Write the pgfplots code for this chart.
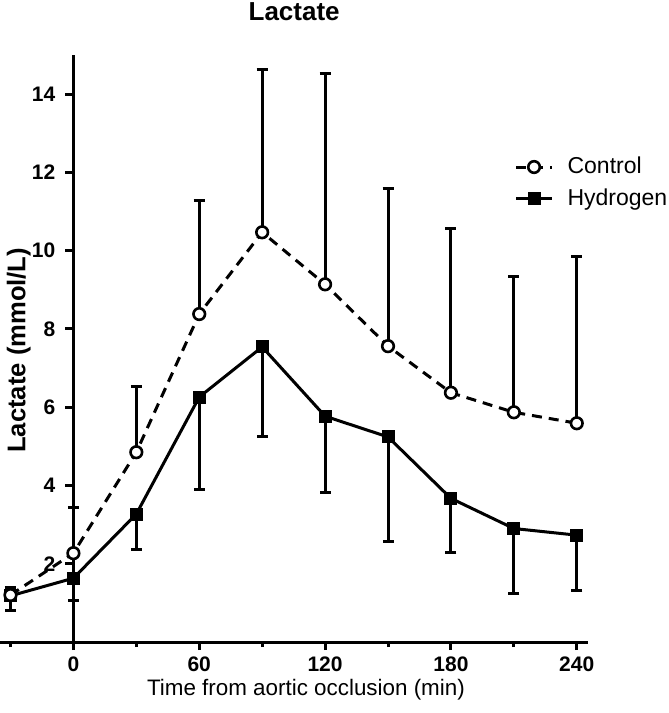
\documentclass[border=0pt]{standalone}
\usepackage{fontspec}
\setmainfont{Liberation Sans}
\usepackage{pgfplots}
\pgfplotsset{compat=1.18}
\usepackage{pgfplotstable}

\pgfplotstableread{
x y e
-30 1.20 0.20
0 2.27 1.16
30 4.85 1.69
60 8.38 2.89
90 10.47 4.16
120 9.14 5.39
150 7.56 4.03
180 6.37 4.20
210 5.87 3.48
240 5.59 4.27
}\control

\pgfplotstableread{
x y e
-30 1.18 0.38
0 1.63 0.56
30 3.27 0.90
60 6.26 2.36
90 7.54 2.30
120 5.77 1.94
150 5.24 2.66
180 3.67 1.39
210 2.90 1.66
240 2.73 1.42
}\hydrogen

\begin{document}
\begin{tikzpicture}
\useasboundingbox (0,0) rectangle (334.5pt,356.5pt);
\begin{axis}[
  at={(0pt,35.5pt)}, anchor=south west,
  scale only axis, width=294.15pt, height=293.5pt,
  xmin=-35, xmax=245.5, ymin=0, ymax=15,
  axis x line=bottom, axis y line=middle,
  hide obscured x ticks=false, hide obscured y ticks=false,
  axis line style={line width=1.5pt, -},
  tick align=outside,
  xtick={0,60,120,180,240},
  minor xtick={-30,30,90,150,210},
  ytick={2,4,6,8,10,12,14},
  major tick length=4pt, minor tick length=2.5pt,
  tick style={line width=1.5pt, black},
  /pgf/number format/assume math mode=true,
  xticklabel style={font=\bfseries\fontsize{10.5}{12}\selectfont},
  yticklabel style={font=\bfseries\fontsize{10.5}{12}\selectfont, anchor=east, xshift=-1.5pt},
  title={Lactate},
  every axis title/.style={at={(axis description cs:0.5,1.073)}, anchor=center, font=\bfseries\fontsize{13}{15}\selectfont},
  xlabel={Time from aortic occlusion (min)},
  every axis x label/.style={at={(axis description cs:0.52,-0.082)}, anchor=center, font=\fontsize{11.2}{13}\selectfont},
  ylabel={Lactate (mmol/L)},
  every axis y label/.style={at={(axis description cs:0.032,0.497)}, anchor=center, rotate=90, font=\bfseries\fontsize{12.8}{15}\selectfont},
  legend style={at={(axis description cs:0.874,0.83)}, anchor=north west, draw=none, fill=none,
    font=\fontsize{11.5}{13}\selectfont, row sep=4pt, inner sep=0pt, nodes={inner sep=1pt}},
  /tikz/every odd column/.append style={column sep=6pt},
  legend cell align=left,
  reverse legend,
  legend image code/.code={\draw[mark repeat=2, mark phase=2, #1] plot coordinates {(0pt,0pt) (9pt,0pt) (18pt,0pt)};},
  clip=false,
]
\addplot[black, line width=1.5pt, mark=square*, mark size=2.5pt, mark options={solid},
  error bars/.cd, y dir=minus, y explicit,
  error bar style={line width=1.5pt, solid},
  error mark options={rotate=90, mark size=2.75pt, line width=1.5pt}]
  table[x=x, y=y, y error=e]{\hydrogen};
\addlegendentry{Hydrogen}
\addplot[black, line width=1.5pt, dash pattern=on 5pt off 3.5pt, mark=*, mark size=2.9pt,
  mark options={solid, fill=white, line width=1.3pt},
  error bars/.cd, y dir=plus, y explicit,
  error bar style={line width=1.5pt, solid},
  error mark options={rotate=90, mark size=2.75pt, line width=1.5pt}]
  table[x=x, y=y, y error=e]{\control};
\addlegendentry{Control}
\end{axis}
\end{tikzpicture}
\end{document}
